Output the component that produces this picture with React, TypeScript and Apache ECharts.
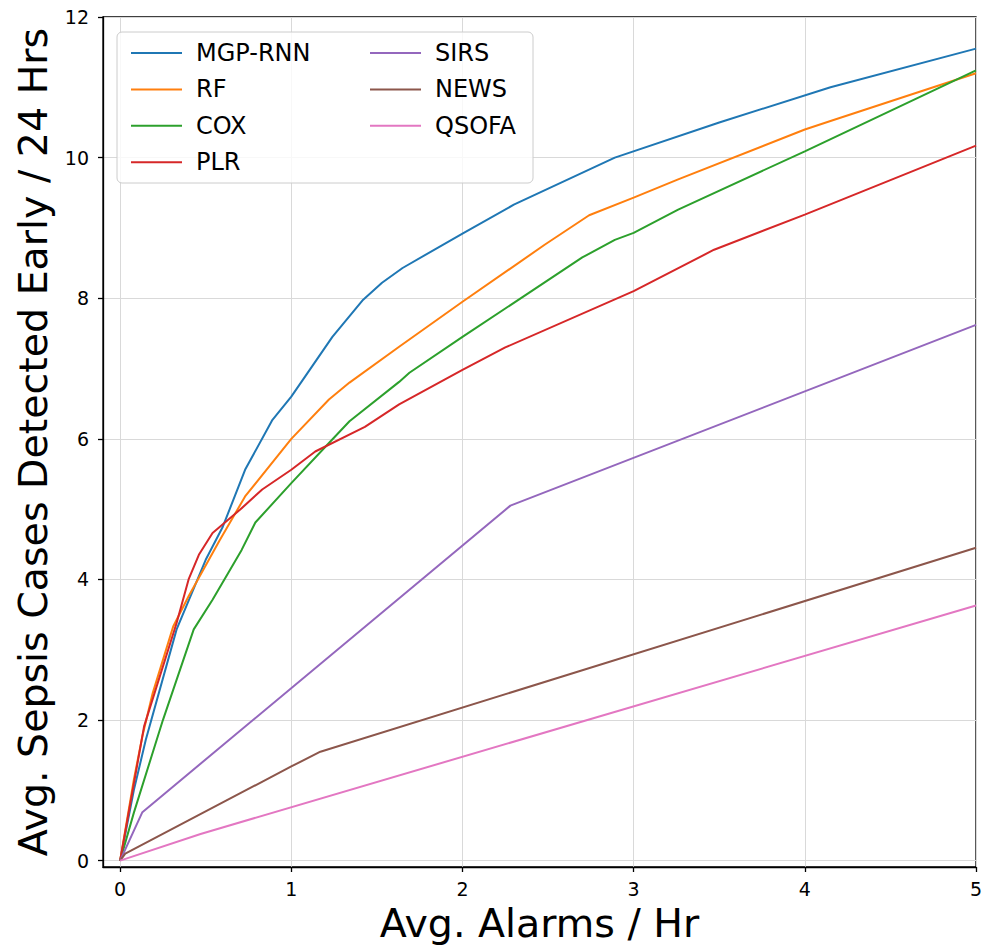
import React, { useEffect, useRef } from "react";
import * as echarts from "echarts";

const seriesNames = ["MGP-RNN", "RF", "COX", "PLR", "SIRS", "NEWS", "QSOFA"];
const seriesColors = ["#1f77b4", "#ff7f0e", "#2ca02c", "#d62728", "#9467bd", "#8c564b", "#e377c2"];

const xTicks = [0, 1, 2, 3, 4, 5];
const yTicks = [0, 2, 4, 6, 8, 10, 12];

const mgpRnn: [number, number][] = [
  [0, 0], [0.08, 1.0], [0.15, 1.72], [0.33, 3.29], [0.5, 4.28], [0.6, 4.75], [0.73, 5.56],
  [0.89, 6.27], [1.0, 6.6], [1.24, 7.45], [1.42, 7.98], [1.53, 8.22], [1.65, 8.43], [2.0, 8.92],
  [2.3, 9.33], [2.89, 10.0], [3.5, 10.5], [4.15, 11.0], [5, 11.55],
];
const rf: [number, number][] = [
  [0, 0], [0.08, 1.15], [0.13, 1.77], [0.19, 2.38], [0.31, 3.33], [0.4, 3.76], [0.58, 4.55],
  [0.73, 5.18], [1.0, 6.0], [1.22, 6.56], [1.34, 6.8], [1.63, 7.31], [2.0, 7.95], [2.48, 8.76],
  [2.74, 9.18], [3.0, 9.43], [3.26, 9.69], [4.0, 10.4], [4.15, 10.52], [5, 11.2],
];
const cox: [number, number][] = [
  [0, 0], [0.08, 0.68], [0.25, 2.0], [0.43, 3.29], [0.54, 3.71], [0.71, 4.42], [0.79, 4.81],
  [1.0, 5.37], [1.22, 5.94], [1.34, 6.25], [1.63, 6.81], [1.69, 6.94], [2.0, 7.45], [2.7, 8.58],
  [2.89, 8.83], [3.0, 8.93], [3.26, 9.26], [4.0, 10.09], [5, 11.24],
];
const plr: [number, number][] = [
  [0, 0], [0.14, 1.91], [0.33, 3.38], [0.4, 4.0], [0.46, 4.35], [0.54, 4.66], [0.7, 4.99],
  [0.83, 5.28], [1.0, 5.56], [1.14, 5.82], [1.43, 6.17], [1.63, 6.49], [2.0, 6.98], [2.25, 7.3],
  [3.0, 8.1], [3.47, 8.69], [4.0, 9.19], [5, 10.17],
];
const sirs: [number, number][] = [[0, 0], [0.13, 0.69], [2.28, 5.05], [5, 7.62]];
const news: [number, number][] = [[0, 0], [0.03, 0.1], [1.0, 1.34], [1.17, 1.55], [5, 4.45]];
const qsofa: [number, number][] = [[0, 0], [0.47, 0.38], [5, 3.63]];

const seriesData = [mgpRnn, rf, cox, plr, sirs, news, qsofa];

const FONT = "DejaVu Sans";

export default function App() {
  const ref = useRef<HTMLDivElement>(null);
  useEffect(() => {
    if (!ref.current) return;
    const chart = echarts.init(ref.current, undefined, { renderer: "svg" });
    const axisCommon = {
      axisLine: { show: true, onZero: false, lineStyle: { color: "#000", width: 1.3 } },
      axisTick: { show: true, inside: false, length: 5, lineStyle: { color: "#000", width: 1.3 } },
      splitLine: { show: true, lineStyle: { color: "#d9d9d9", width: 1 } },
      nameTextStyle: { fontFamily: FONT, fontSize: 39.5, color: "#000" },
      nameMoveOverlap: false,
    };
    const legendCommon = {
      orient: "vertical",
      top: 36,
      z: 10,
      icon: "path://M0,0L51,0L51,2L0,2Z",
      itemWidth: 51,
      itemHeight: 2,
      itemGap: 12.4,
      textStyle: { fontFamily: FONT, fontSize: 24, color: "#000", padding: [0, 0, 0, 9] },
    };
    chart.setOption({
      animation: false,
      backgroundColor: "#fff",
      grid: {
        left: 103, right: 14, top: 17, bottom: 80,
        outerBoundsMode: "none",
        containLabel: false,
        show: true, borderColor: "#000", borderWidth: 1.3, backgroundColor: "transparent",
      },
      xAxis: {
        type: "value",
        min: -0.1,
        max: 5,
        ...axisCommon,
        axisTick: { ...axisCommon.axisTick, customValues: xTicks },
        axisLabel: { customValues: xTicks, fontFamily: FONT, fontSize: 19, color: "#000", margin: 12 },
        name: "Avg. Alarms / Hr",
        nameLocation: "middle",
        nameGap: 36,
      },
      yAxis: {
        type: "value",
        min: -0.09,
        max: 12,
        ...axisCommon,
        axisTick: { ...axisCommon.axisTick, customValues: yTicks },
        axisLabel: { customValues: yTicks, fontFamily: FONT, fontSize: 19, color: "#000", margin: 14 },
        name: "Avg. Sepsis Cases Detected Early / 24 Hrs",
        nameLocation: "middle",
        nameGap: 50,
      },
      graphic: [
        {
          type: "rect",
          z: 5,
          shape: { x: 117, y: 32, width: 416, height: 151, r: 5 },
          style: { fill: "rgba(255,255,255,0.8)", stroke: "#cccccc", lineWidth: 1 },
        },
      ],
      legend: [
        { ...legendCommon, data: seriesNames.slice(0, 4), left: 126 },
        { ...legendCommon, data: seriesNames.slice(4), left: 365 },
      ],
      series: seriesNames.map((name, i) => ({
        name,
        type: "line",
        data: seriesData[i],
        symbol: "none",
        showSymbol: false,
        color: seriesColors[i],
        itemStyle: { color: seriesColors[i] },
        lineStyle: { color: seriesColors[i], width: 2 },
        z: 2,
      })),
    });
    return () => chart.dispose();
  }, []);
  return (
    <div
      ref={ref}
      style={{ position: "fixed", left: 0, top: 0, width: 990, height: 947, background: "#fff" }}
    />
  );
}
